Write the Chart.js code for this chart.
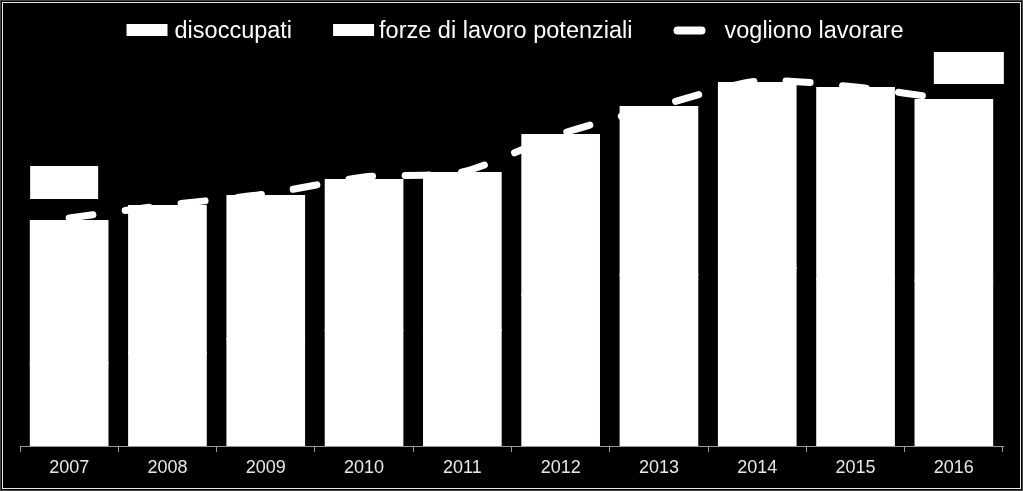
<!DOCTYPE html>
<html>
<head>
<meta charset="utf-8">
<script src="https://cdn.jsdelivr.net/npm/chart.js@4.4.1/dist/chart.umd.min.js"></script>
<style>
  html, body { margin: 0; padding: 0; background: #000; }
  #wrap { width: 1023px; height: 491px; position: relative; }
</style>
</head>
<body>
<div id="wrap"><canvas id="c" width="1023" height="491"></canvas></div>
<script>
// ---- data (thousands) ----
const categories = ['2007','2008','2009','2010','2011','2012','2013','2014','2015','2016'];
const disoccupati = [1506, 1692, 1945, 2102, 2108, 2744, 3113, 3236, 3033, 3012];
const forzePotenziali = [2585, 2672, 2600, 2734, 2856, 2911, 3051, 3364, 3476, 3279];
const voglionoLavorare = [4145, 4382, 4582, 4891, 4982, 5673, 6180, 6636, 6527, 6291];
const labelledIndexes = [0, 9];
const yMax = 7000;

// label boxes (white boxes above selected bars)
const labelBoxStyle = {
  0: { dx: -39, width: 68, gap: 22, height: 33 },
  9: { dx: -20, width: 70, gap: 16, height: 32 }
};

const frame = {
  id: 'frame',
  beforeDraw(chart) {
    const ctx = chart.ctx;
    ctx.save();
    ctx.fillStyle = '#000';
    ctx.fillRect(0, 0, chart.width, chart.height);
    ctx.strokeStyle = '#444';
    ctx.lineWidth = 1;
    ctx.strokeRect(0.5, 0.5, chart.width - 1, chart.height - 1);
    ctx.strokeStyle = '#e6e6e6';
    ctx.strokeRect(2.5, 2.5, chart.width - 5, chart.height - 5);
    ctx.restore();
  }
};

const boxes = {
  id: 'boxes',
  afterDatasetsDraw(chart) {
    const meta = chart.getDatasetMeta(1);
    const ctx = chart.ctx;
    ctx.save();
    ctx.fillStyle = '#fff';
    labelledIndexes.forEach(i => {
      const el = meta.data[i];
      const s = labelBoxStyle[i];
      const left = el.x + s.dx;
      const bottom = el.y - s.gap;
      ctx.fillRect(left, bottom - s.height, s.width, s.height);
    });
    ctx.restore();
  }
};

const legendPlugin = {
  id: 'customLegend',
  afterDraw(chart) {
    const ctx = chart.ctx;
    ctx.save();
    ctx.font = '23.5px "Liberation Sans", Arial, sans-serif';
    ctx.textBaseline = 'alphabetic';
    ctx.fillStyle = '#fff';
    const ds = chart.data.datasets;
    const items = [
      { kind: 'box', text: ds[0].label },
      { kind: 'box', text: ds[1].label },
      { kind: 'line', text: ds[2].label }
    ];
    const symW = { box: 41, line: 32 };
    const symGap = [7, 5, 19];
    const itemGap = 41;
    let total = 0;
    items.forEach((it, k) => {
      it.w = ctx.measureText(it.text).width;
      total += symW[it.kind] + symGap[k] + it.w;
      if (k < items.length - 1) total += itemGap;
    });
    let x = 515 - total / 2;
    const cy = 30;
    const baseline = 38;
    items.forEach((it, k) => {
      if (it.kind === 'box') {
        ctx.fillStyle = '#fff';
        ctx.fillRect(x, cy - 6, 41, 12);
      } else {
        ctx.strokeStyle = '#fff';
        ctx.lineWidth = 8;
        ctx.lineCap = 'round';
        ctx.beginPath();
        ctx.moveTo(x + 4, cy + 0.5);
        ctx.lineTo(x + 28, cy + 0.5);
        ctx.stroke();
      }
      x += symW[it.kind] + symGap[k];
      ctx.fillStyle = '#fff';
      ctx.fillText(it.text, x, baseline);
      x += it.w + itemGap;
    });
    ctx.restore();
  }
};

new Chart(document.getElementById('c'), {
  data: {
    labels: categories,
    datasets: [
      { type: 'bar', label: 'disoccupati', data: disoccupati, backgroundColor: '#fff',
        borderWidth: 0, inflateAmount: 1, stack: 's', order: 2 },
      { type: 'bar', label: 'forze di lavoro potenziali', data: forzePotenziali, backgroundColor: '#fff',
        borderWidth: 0, inflateAmount: 1, stack: 's', order: 2 },
      { type: 'line', label: 'vogliono lavorare', data: voglionoLavorare, borderColor: '#fff',
        borderWidth: 7, borderDash: [24, 32.5], borderCapStyle: 'round', pointRadius: 0,
        tension: 0.25, fill: false, order: 1 }
    ]
  },
  options: {
    responsive: false,
    animation: false,
    devicePixelRatio: 1,
    layout: { padding: { top: 61, left: 20, right: 20, bottom: 0 } },
    datasets: { bar: { categoryPercentage: 0.78, barPercentage: 1.0 } },
    plugins: { legend: { display: false }, tooltip: { enabled: false } },
    scales: {
      x: {
        stacked: true,
        grid: { display: true, drawOnChartArea: false, offset: true, tickLength: 6, color: '#9a9a9a', lineWidth: 1 },
        border: { display: true, color: '#9a9a9a', width: 1 },
        ticks: { color: '#e8e8e8', padding: 5, font: { family: '"Liberation Sans", Arial, sans-serif', size: 18 } },
        afterFit(s) { s.height = 45; }
      },
      y: { stacked: true, display: false, min: 0, max: yMax }
    }
  },
  plugins: [frame, boxes, legendPlugin]
});
</script>
</body>
</html>
